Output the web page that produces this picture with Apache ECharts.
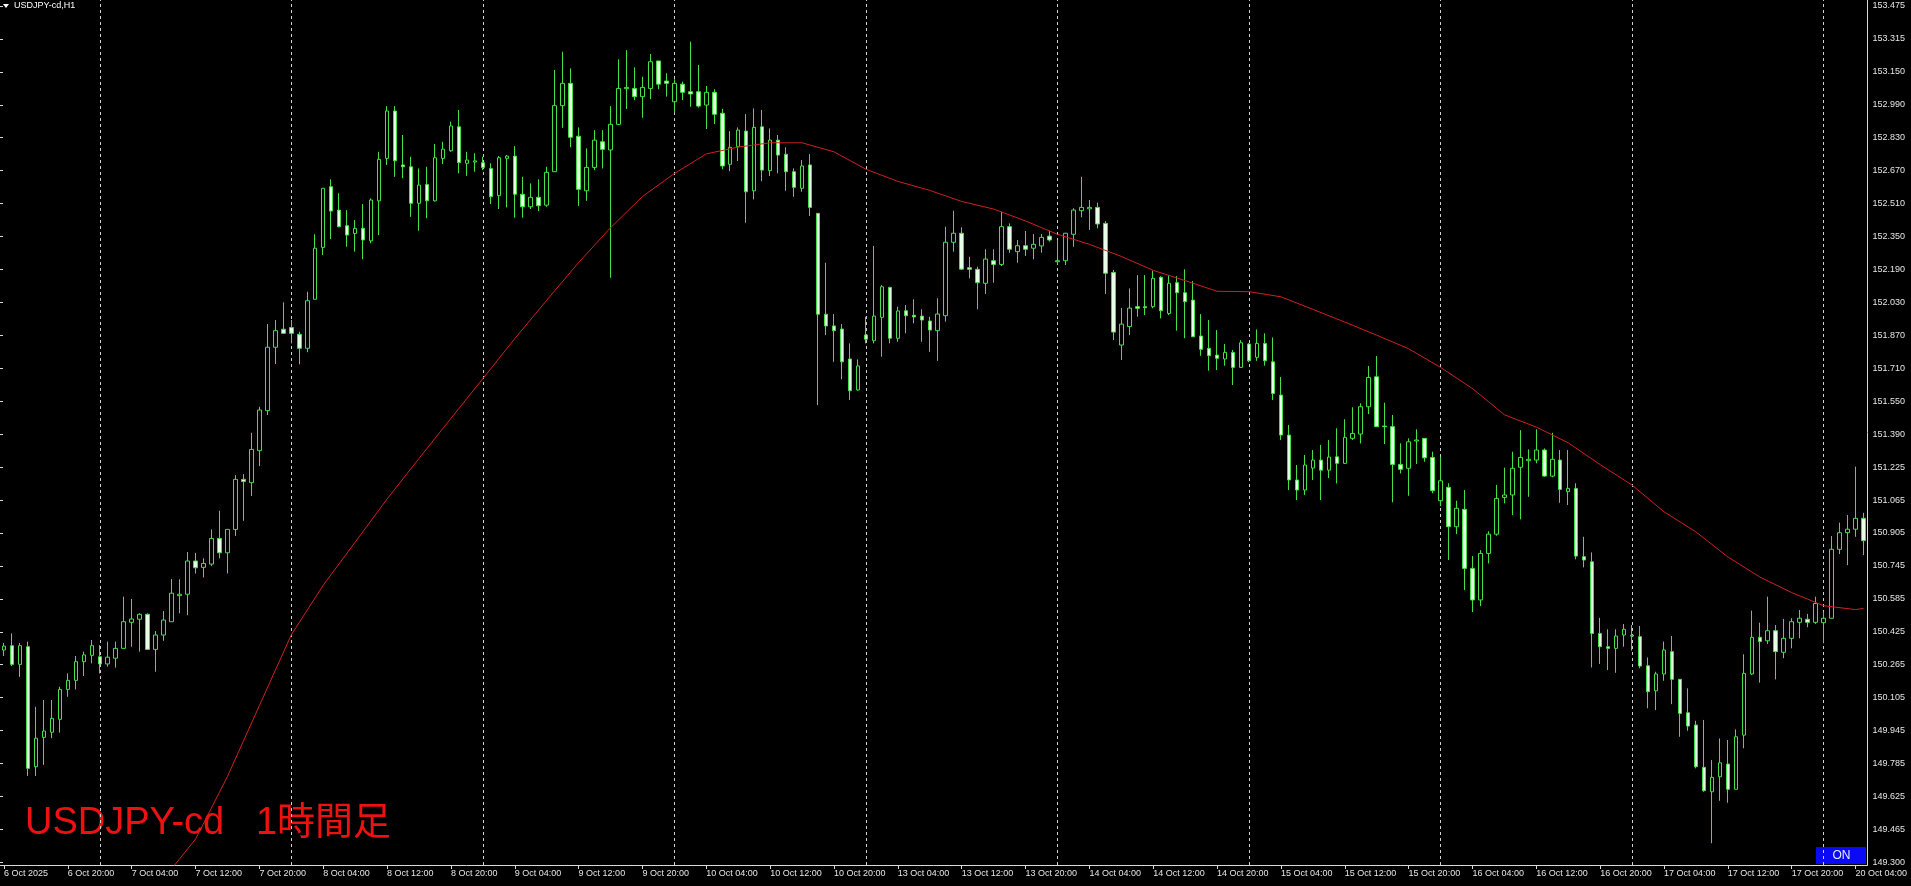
<!DOCTYPE html>
<html><head><meta charset="utf-8">
<script src="https://cdn.jsdelivr.net/npm/echarts@6/dist/echarts.min.js"></script>
<style>html,body{margin:0;padding:0;background:#000;overflow:hidden}#c{width:1911px;height:886px;}</style>
</head><body><div id="c"></div>
<script>
// trading sessions (day label, first hour, last hour) -> hourly categories
const sessions = [['6 Oct',12,23],['7 Oct',0,23],['8 Oct',0,23],['9 Oct',0,23],['10 Oct',0,23],
  ['13 Oct',0,23],['14 Oct',0,23],['15 Oct',0,23],['16 Oct',0,23],['17 Oct',0,23],['20 Oct',0,5]];
const categories = [];
sessions.forEach(([d,a,b])=>{for(let h=a;h<=b;h++)categories.push(d+' '+String(h).padStart(2,'0')+':00');});

const opens = [150.335,150.356,150.265,150.351,149.766,149.909,149.934,149.997,150.143,150.187,150.278,150.309,150.302,150.267,150.295,150.343,150.470,150.485,150.509,150.338,
150.408,150.473,150.600,150.607,150.769,150.738,150.754,150.879,150.809,150.923,151.167,151.151,151.307,151.502,151.811,151.899,151.907,151.874,151.806,152.045,
152.298,152.594,152.480,152.404,152.366,152.391,152.330,152.525,152.732,152.963,152.700,152.691,152.513,152.605,152.525,152.732,152.769,152.886,152.708,152.714,
152.711,152.683,152.550,152.732,152.743,152.557,152.496,152.542,152.504,152.667,152.989,153.098,152.840,152.574,152.688,152.813,152.773,152.898,153.072,153.073,
153.033,153.073,153.207,153.109,153.008,153.094,153.057,153.057,152.992,153.054,152.952,152.703,152.789,152.865,152.574,152.886,152.672,152.821,152.752,152.667,
152.586,152.700,152.464,151.972,151.915,151.900,151.754,151.603,151.871,151.843,151.957,152.103,151.855,151.989,151.967,151.963,151.939,151.892,151.965,152.323,
152.367,152.199,152.191,152.123,152.233,152.215,152.399,152.277,152.306,152.294,152.305,152.353,152.228,152.233,152.362,152.477,152.486,152.493,152.415,152.176,
151.822,151.912,152.009,152.009,152.009,152.152,151.976,152.126,152.077,152.041,151.866,151.806,151.773,151.754,151.786,151.713,151.827,151.762,151.830,151.740,
151.578,151.383,151.164,151.115,151.222,151.261,151.212,151.277,151.245,151.367,151.388,151.521,151.667,151.427,151.424,151.240,151.221,151.354,151.367,151.274,
151.063,151.128,150.936,151.021,150.733,150.579,150.806,150.900,151.079,151.091,151.226,151.258,151.261,151.310,151.183,151.261,151.107,151.123,150.790,150.765,
150.416,150.351,150.343,150.408,150.403,150.400,150.258,150.136,150.218,150.327,150.192,150.029,149.969,149.763,149.644,149.717,149.779,149.656,149.920,150.218,
150.397,150.380,150.429,150.324,150.392,150.470,150.485,150.470,150.468,150.490,150.826,150.907,150.924,150.977];
const highs = [150.369,150.416,150.369,150.376,150.058,150.091,150.091,150.156,150.221,150.306,150.327,150.384,150.359,150.376,150.376,150.595,150.584,150.514,150.514,150.427,
150.525,150.681,150.680,150.813,150.808,150.782,150.923,151.014,150.923,151.188,151.193,151.394,151.521,151.924,151.944,152.030,151.944,151.887,152.082,152.362,
152.586,152.630,152.562,152.480,152.431,152.509,152.537,152.764,152.987,152.987,152.846,152.740,152.683,152.691,152.802,152.813,152.911,152.968,152.764,152.757,
152.740,152.708,152.743,152.748,152.792,152.642,152.610,152.630,152.691,153.163,153.252,153.171,152.883,152.781,152.870,152.870,152.987,153.215,153.260,153.176,
153.130,153.241,153.207,153.147,153.117,153.106,153.301,153.187,153.085,153.069,152.973,152.865,152.883,152.948,152.976,152.968,152.878,152.846,152.786,152.683,
152.724,152.753,152.464,152.223,151.973,151.924,151.830,151.752,151.960,152.305,152.114,152.106,152.009,152.017,152.045,151.996,151.960,152.050,152.399,152.477,
152.396,152.252,152.204,152.289,152.289,152.472,152.415,152.334,152.378,152.363,152.363,152.379,152.334,152.369,152.489,152.642,152.529,152.516,152.426,152.188,
152.003,152.098,152.163,152.163,152.184,152.158,152.163,152.158,152.191,152.134,151.973,151.944,151.895,151.827,151.798,151.846,151.832,151.898,151.879,151.859,
151.666,151.432,151.237,151.286,151.310,151.335,151.359,151.416,151.460,151.518,151.538,151.720,151.768,151.541,151.481,151.343,151.367,151.411,151.367,151.302,
151.277,151.148,151.063,151.115,150.793,150.822,150.914,151.140,151.224,151.302,151.407,151.313,151.411,151.318,151.394,151.310,151.310,151.148,150.887,150.811,
150.492,150.436,150.436,150.462,150.457,150.452,150.299,150.229,150.376,150.403,150.192,150.148,149.990,149.994,149.799,149.904,149.896,149.948,150.314,150.527,
150.468,150.595,150.457,150.486,150.490,150.530,150.511,150.595,150.522,150.891,150.956,150.993,151.229,151.004];
const lows = [150.306,150.257,150.204,149.721,149.721,149.775,149.905,149.932,150.107,150.143,150.208,150.270,150.221,150.254,150.249,150.343,150.351,150.327,150.335,150.229,
150.380,150.473,150.514,150.505,150.708,150.689,150.744,150.782,150.708,150.891,150.965,151.086,151.232,151.481,151.729,151.879,151.830,151.728,151.787,152.045,
152.261,152.339,152.396,152.301,152.277,152.240,152.318,152.358,152.700,152.642,152.635,152.447,152.379,152.440,152.521,152.704,152.764,152.659,152.647,152.667,
152.675,152.509,152.485,152.493,152.443,152.443,152.485,152.475,152.496,152.667,152.881,152.786,152.500,152.525,152.675,152.683,152.150,152.895,152.973,153.016,
152.930,153.021,153.069,153.033,152.955,153.016,152.984,152.979,152.875,152.899,152.679,152.670,152.719,152.418,152.532,152.621,152.646,152.659,152.574,152.545,
152.569,152.451,151.529,151.871,151.740,151.655,151.554,151.599,151.830,151.830,151.765,151.830,151.838,151.879,151.928,151.838,151.789,151.745,151.936,152.277,
152.188,152.147,151.996,152.071,152.126,152.207,152.272,152.223,152.256,152.240,152.272,152.326,152.212,152.212,152.301,152.445,152.383,152.391,152.071,151.846,
151.749,151.871,151.960,151.968,152.001,151.952,151.968,151.892,151.855,151.862,151.770,151.697,151.700,151.721,151.627,151.711,151.738,151.745,151.721,151.554,
151.359,151.115,151.066,151.091,151.164,151.066,151.173,151.147,151.242,151.359,151.342,151.485,151.424,151.339,151.055,151.196,151.087,151.242,151.253,151.099,
151.037,150.774,150.900,150.627,150.520,150.549,150.757,150.892,151.050,150.993,150.972,151.082,151.245,151.180,151.177,151.053,151.042,150.777,150.738,150.250,
150.267,150.237,150.224,150.351,150.332,150.246,150.051,150.042,150.185,150.071,149.912,149.941,149.758,149.644,149.393,149.600,149.590,149.656,149.856,150.213,
150.176,150.364,150.192,150.295,150.343,150.392,150.446,150.462,150.368,150.490,150.803,150.749,150.887,150.798];
const closes = [150.354,150.265,150.356,149.758,149.905,149.940,150.002,150.143,150.187,150.278,150.311,150.356,150.267,150.300,150.343,150.473,150.486,150.509,150.338,150.408,
150.481,150.612,150.607,150.769,150.736,150.757,150.879,150.809,150.923,151.167,151.156,151.313,151.505,151.811,151.892,151.879,151.879,151.806,152.038,152.294,
152.586,152.475,152.399,152.358,152.391,152.334,152.529,152.727,152.963,152.720,152.691,152.513,152.602,152.525,152.735,152.777,152.890,152.711,152.724,152.720,
152.688,152.545,152.735,152.743,152.557,152.496,152.542,152.501,152.664,152.989,153.098,152.835,152.581,152.688,152.821,152.776,152.898,153.073,153.078,153.033,
153.078,153.203,153.094,153.098,153.098,153.054,153.046,152.987,153.054,152.947,152.695,152.786,152.870,152.569,152.883,152.675,152.821,152.748,152.667,152.591,
152.695,152.493,151.972,151.915,151.892,151.740,151.599,151.720,151.850,151.963,152.106,151.855,151.988,151.965,151.959,151.944,151.895,151.973,152.323,152.367,
152.192,152.191,152.126,152.241,152.215,152.399,152.289,152.306,152.289,152.313,152.347,152.334,152.233,152.367,152.480,152.493,152.493,152.412,152.172,151.885,
151.924,152.002,152.001,152.004,152.147,151.989,152.123,152.077,152.033,151.862,151.801,151.770,151.757,151.786,151.713,151.833,151.745,151.830,151.745,151.586,
151.383,151.164,151.115,151.237,151.261,151.212,151.276,151.245,151.372,151.391,151.521,151.664,151.424,151.424,151.240,151.216,151.350,151.359,151.272,151.112,
151.160,150.936,151.026,150.733,150.579,150.806,150.900,151.074,151.091,151.221,151.274,151.265,151.310,151.183,151.265,151.118,151.123,150.793,150.774,150.416,
150.351,150.343,150.403,150.436,150.407,150.257,150.132,150.218,150.335,150.192,150.026,149.964,149.766,149.649,149.714,149.785,149.656,149.912,150.221,150.397,
150.376,150.429,150.327,150.392,150.473,150.490,150.470,150.562,150.490,150.826,150.907,150.924,150.977,150.868];

// red moving average, read at every 4th bar
const maIdx = [20,24,28,32,36,40,44,48,52,56,60,64,68,72,76,80,84,88,92,96,100,104,108,112,116,120,124,128,132,136,140,144,148,152,156,160,164,168,172,176,180,184,188,192,196,200,204,208,212,216,220,224,228,232,233];
const maVal = [149.220,149.413,149.718,150.064,150.409,150.651,150.861,151.071,151.269,151.464,151.658,151.853,152.040,152.224,152.394,152.546,152.658,152.754,152.787,152.808,152.808,152.764,152.679,152.620,152.576,152.522,152.485,152.427,152.362,152.313,152.254,152.186,152.136,152.084,152.082,152.057,151.996,151.934,151.870,151.804,151.713,151.610,151.482,151.422,151.345,151.239,151.139,151.009,150.911,150.789,150.691,150.615,150.551,150.532,150.538];

const xTickLabels = ['6 Oct 2025','6 Oct 20:00','7 Oct 04:00','7 Oct 12:00','7 Oct 20:00','8 Oct 04:00','8 Oct 12:00','8 Oct 20:00','9 Oct 04:00','9 Oct 12:00','9 Oct 20:00','10 Oct 04:00','10 Oct 12:00','10 Oct 20:00','13 Oct 04:00','13 Oct 12:00','13 Oct 20:00','14 Oct 04:00','14 Oct 12:00','14 Oct 20:00','15 Oct 04:00','15 Oct 12:00','15 Oct 20:00','16 Oct 04:00','16 Oct 12:00','16 Oct 20:00','17 Oct 04:00','17 Oct 12:00','17 Oct 20:00','20 Oct 04:00'];
const yTickLabels = ['149.300','149.465','149.625','149.785','149.945','150.105','150.265','150.425','150.585','150.745','150.905','151.065','151.225','151.390','151.550','151.710','151.870','152.030','152.190','152.350','152.510','152.670','152.830','152.990','153.150','153.315','153.475'];

const candleData = opens.map((o,i)=>[o, closes[i], lows[i], highs[i]]);
const maData = categories.map(()=>null);
maIdx.forEach((k,j)=>{maData[k]=maVal[j];});
const dayLines = categories.filter(c=>c.endsWith(' 00:00')).map(c=>({xAxis:c}));

const GREEN = '#44e044';
const LABEL = '#e4e4e4';
const FONT = '"Liberation Sans", Arial, sans-serif';
const chart = echarts.init(document.getElementById('c'), null, {renderer:'canvas'});
chart.setOption({
  backgroundColor:'#000000',
  animation:false,
  grid:[
    {left:-4.5, width:1872, top:0, height:865},
    {left:-4.5, width:1872, top:6, height:856.3}
  ],
  xAxis:[
    {type:'category', gridIndex:0, data:categories, boundaryGap:true,
     axisLine:{show:true, lineStyle:{color:'#d8d8d8', width:1}},
     axisTick:{show:true, alignWithLabel:true, length:4, interval:(i)=>i%8===0, lineStyle:{color:'#d8d8d8'}},
     axisLabel:{show:true, interval:(i)=>i%8===0, formatter:(v,i)=>(i%8===0?xTickLabels[i/8]:''),
       align:'left', color:LABEL, fontSize:9, fontFamily:FONT, margin:4},
     splitLine:{show:false}},
    {type:'value', gridIndex:1, show:false, min:0, max:1}
  ],
  yAxis:[
    {type:'value', gridIndex:0, position:'right', min:149.2868, max:153.5042, scale:true,
     axisLine:{show:true, lineStyle:{color:'#d8d8d8', width:1}},
     axisTick:{show:false}, axisLabel:{show:false}, splitLine:{show:false}},
    {type:'value', gridIndex:1, position:'right', min:0, max:26, interval:1,
     axisLine:{show:false}, axisTick:{show:true, length:3, lineStyle:{color:'#d8d8d8'}},
     axisLabel:{show:true, formatter:(v)=>yTickLabels[Math.round(v)]||'', color:LABEL, fontSize:9, fontFamily:FONT, margin:5},
     splitLine:{show:false}}
  ],
  series:[
    {type:'candlestick', name:'USDJPY-cd', xAxisIndex:0, yAxisIndex:0, data:candleData, barWidth:4, z:2,
     itemStyle:{color:'#000000', color0:'#e6ffe6', borderColor:GREEN, borderColor0:GREEN, borderColorDoji:GREEN, borderWidth:1},
     markLine:{silent:true, z:1, symbol:['none','none'], label:{show:false}, animation:false,
       lineStyle:{color:'#d0d0d0', type:[3,3], width:1}, emphasis:{disabled:true}, data:dayLines}},
    {type:'line', name:'MA', xAxisIndex:0, yAxisIndex:0, data:maData, connectNulls:true, showSymbol:false, symbol:'none', z:3,
     lineStyle:{color:'#d02020', width:1}, clip:true}
  ],
  graphic:[
    {type:'polygon', shape:{points:[[3,4],[9,4],[6,8]]}, style:{fill:'#ffffff'}},
    {type:'text', x:14, y:6, style:{text:'USDJPY-cd,H1', fill:'#ffffff', font:'9px '+FONT, verticalAlign:'middle', align:'left'}},
    {type:'text', x:25, y:824, style:{text:'USDJPY-cd   1時間足', fill:'#ee1111', font:'38px "Liberation Sans", "Noto Sans CJK JP", sans-serif', verticalAlign:'middle', align:'left'}},
    {type:'rect', shape:{x:1816, y:847, width:50, height:17}, style:{fill:'#0a0af5'}},
    {type:'text', x:1841.5, y:856, style:{text:'ON', fill:'#e6e8ff', font:'12px '+FONT, verticalAlign:'middle', align:'center'}}
  ]
});
</script></body></html>
